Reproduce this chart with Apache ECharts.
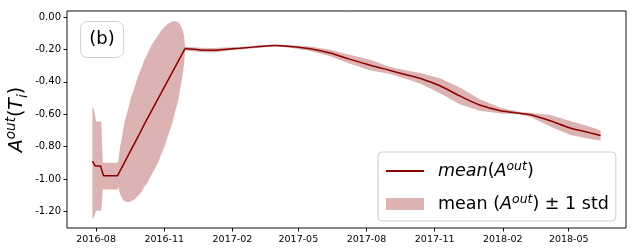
<!DOCTYPE html>
<html><head><meta charset="utf-8">
<script src="https://cdn.jsdelivr.net/npm/echarts@6/dist/echarts.min.js"></script>
<style>html,body{margin:0;padding:0;background:#fff}#c{width:635px;height:252px}</style>
</head><body><div id="c"></div>
<script>
// ---- data ----
const meanDates = ['2016-07-27','2016-07-29','2016-07-31','2016-08-07','2016-08-11','2016-08-30','2016-10-01','2016-10-03','2016-11-29',
  '2016-12-19','2017-01-06','2017-01-21','2017-02-11','2017-03-10','2017-03-30','2017-04-20','2017-05-17','2017-06-13','2017-07-09',
  '2017-08-05','2017-09-02','2017-09-29','2017-10-13','2017-11-08','2017-12-05','2018-01-01','2018-01-29','2018-02-24','2018-03-10',
  '2018-04-06','2018-05-03','2018-05-30','2018-06-13'];
const meanValues = [-0.889,-0.889,-0.920,-0.920,-0.979,-0.979,-0.700,-0.680,-0.195,
  -0.203,-0.205,-0.200,-0.193,-0.182,-0.176,-0.182,-0.196,-0.222,-0.260,
  -0.296,-0.330,-0.363,-0.379,-0.424,-0.487,-0.543,-0.578,-0.594,-0.603,
  -0.640,-0.685,-0.715,-0.731];

const bandDates = ['2016-07-27','2016-07-29','2016-08-01','2016-08-08','2016-08-10','2016-08-30','2016-08-31','2016-09-02','2016-09-05','2016-09-08',
  '2016-09-13','2016-09-17','2016-09-22','2016-09-26','2016-10-01','2016-10-05','2016-10-10','2016-10-14','2016-10-19','2016-10-24',
  '2016-10-28','2016-11-02','2016-11-06','2016-11-11','2016-11-15','2016-11-20','2016-11-23','2016-11-26','2016-11-28','2016-11-29',
  '2016-12-19','2017-01-06','2017-01-21','2017-02-11','2017-03-10','2017-03-30','2017-04-20','2017-05-17','2017-06-13','2017-07-09',
  '2017-08-05','2017-09-02','2017-09-29','2017-10-13','2017-11-08','2017-12-05','2018-01-01','2018-01-29','2018-02-24','2018-03-10',
  '2018-04-06','2018-05-03','2018-05-30','2018-06-13'];
const bandLower = [-1.245,-1.235,-1.195,-1.195,-1.065,-1.065,-1.047,-1.087,-1.118,-1.136,
  -1.143,-1.138,-1.125,-1.106,-1.082,-1.049,-1.016,-0.980,-0.939,-0.895,
  -0.846,-0.793,-0.733,-0.669,-0.596,-0.512,-0.431,-0.354,-0.283,-0.207,
  -0.216,-0.219,-0.212,-0.201,-0.189,-0.182,-0.190,-0.210,-0.242,-0.287,
  -0.329,-0.352,-0.391,-0.412,-0.470,-0.539,-0.579,-0.596,-0.602,-0.615,
  -0.675,-0.728,-0.753,-0.762];
const bandUpper = [-0.555,-0.570,-0.645,-0.645,-0.900,-0.900,-0.887,-0.815,-0.738,-0.656,
  -0.571,-0.498,-0.433,-0.372,-0.318,-0.265,-0.220,-0.180,-0.143,-0.111,
  -0.082,-0.059,-0.041,-0.029,-0.024,-0.032,-0.051,-0.082,-0.123,-0.183,
  -0.190,-0.191,-0.188,-0.185,-0.175,-0.170,-0.174,-0.182,-0.202,-0.233,
  -0.263,-0.308,-0.335,-0.346,-0.378,-0.435,-0.507,-0.560,-0.586,-0.591,
  -0.605,-0.642,-0.677,-0.700];
// the piecewise (sharp) early part of the mean and the smooth later part meet here
const splitDate = '2016-11-29';

const xTickDates = ['2016-08-01','2016-11-01','2017-02-01','2017-05-01','2017-08-01','2017-11-01','2018-02-01','2018-05-01'];
const xTickLabels = ['2016-08','2016-11','2017-02','2017-05','2017-08','2017-11','2018-02','2018-05'];
const yTickValues = [-1.2,-1.0,-0.8,-0.6,-0.4,-0.2,0.0];
const xRange = ['2016-06-22T17:00','2018-07-17T07:00'];
const yRange = [-1.302, 0.037];

// ---- helpers ----
function ts(s){
  const [d,t] = s.split('T');
  const [y,m,dd] = d.split('-').map(Number);
  let h = 0, mi = 0;
  if (t) { [h,mi] = t.split(':').map(Number); }
  return Date.UTC(y, m-1, dd, h, mi);
}
const split = ts(splitDate);
const tickTs = xTickDates.map(ts);

const bandColor = 'rgba(139,0,0,0.3)';
const lineColor = '#8b0000';
const FONT = 'DejaVu Sans';

const bandData = bandDates.map((d,i)=>[ts(d), bandLower[i], bandUpper[i]]);

function meanSeries(early){
  const data = [];
  meanDates.forEach((d,i)=>{ const t = ts(d); if (early ? t <= split : t >= split) data.push([t, meanValues[i]]); });
  return {name:'mean', type:'line', symbol:'none', showSymbol:false, smooth: early ? false : 0.3,
    data, color: lineColor, lineStyle:{color:lineColor, width:1.5}, itemStyle:{color:lineColor}, z:5, animation:false};
}

const bandSeries = {
  name:'band', type:'custom', coordinateSystem:'cartesian2d', data: bandData,
  encode:{x:0, y:[1,2]}, silent:true, z:2, color: bandColor, itemStyle:{color: bandColor},
  renderItem: function(params, api){
    if (params.dataIndex !== 0) return null;
    const pts = [];
    for (let i = 0; i < bandData.length; i++) pts.push(api.coord([bandData[i][0], bandData[i][2]]));
    for (let i = bandData.length - 1; i >= 0; i--) pts.push(api.coord([bandData[i][0], bandData[i][1]]));
    return {type:'polygon', shape:{points: pts}, style:{fill: bandColor, stroke: null}};
  }
};

const chart = echarts.init(document.getElementById('c'), null, {renderer:'canvas'});
chart.setOption({
  animation:false,
  backgroundColor:'#fff',
  grid:{left:67, top:11, width:559, height:217, show:true, borderColor:'#111', borderWidth:1,
        backgroundColor:'transparent', containLabel:false, outerBoundsMode:'none'},
  xAxis:{type:'value', min:ts(xRange[0]), max:ts(xRange[1]),
    axisLine:{show:false, onZero:false}, splitLine:{show:false},
    axisTick:{show:true, inside:false, length:3.5, lineStyle:{color:'#111'}, customValues: tickTs},
    axisLabel:{customValues: tickTs, margin:6.5, fontFamily:FONT, fontSize:9.5, color:'#000',
      formatter: v => { const i = tickTs.indexOf(v); return i >= 0 ? xTickLabels[i] : ''; }}},
  yAxis:{type:'value', min:yRange[0], max:yRange[1],
    axisLine:{show:false, onZero:false}, splitLine:{show:false},
    axisTick:{show:true, inside:false, length:3.5, lineStyle:{color:'#111'}, customValues: yTickValues},
    axisLabel:{customValues: yTickValues, margin:6, fontFamily:FONT, fontSize:10, color:'#000',
      formatter: v => v.toFixed(2)},
    name:'{i|A}{sup|out}{n|(}{i|T}{sub|i}{n|)}', nameLocation:'middle', nameRotate:90, nameGap:37,
    nameMoveOverlap:false,
    nameTextStyle:{fontFamily:FONT, color:'#000', fontSize:19,
      rich:{
        i:{fontFamily:FONT, fontStyle:'italic', fontSize:19, lineHeight:26, color:'#000'},
        n:{fontFamily:FONT, fontSize:19, lineHeight:26, color:'#000'},
        sup:{fontFamily:FONT, fontStyle:'italic', fontSize:13.5, lineHeight:17, verticalAlign:'top', color:'#000'},
        sub:{fontFamily:FONT, fontStyle:'italic', fontSize:13.5, lineHeight:15, verticalAlign:'bottom', color:'#000'}
      }}},
  legend:{
    orient:'vertical', left:378, top:152, padding:[8,7,8,7], itemGap:13, itemWidth:38, itemHeight:12,
    backgroundColor:'rgba(255,255,255,0.8)', borderColor:'#cccccc', borderWidth:1, borderRadius:4,
    selectedMode:false,
    data:[{name:'mean', itemStyle:{opacity:0}}, {name:'band', icon:'rect', itemStyle:{color:bandColor, borderWidth:0}}],
    formatter: name => name === 'mean'
      ? '{g|}{mi|mean}{n|(}{mi|A}{sup|out}{n|)}'
      : '{g|}{n|mean (}{mi|A}{sup|out}{n|) ± 1 std}',
    textStyle:{fontFamily:FONT, fontSize:17.5, color:'#000',
      rich:{
        g:{width:9},
        n:{fontFamily:FONT, fontSize:17.5, lineHeight:22, color:'#000'},
        mi:{fontFamily:FONT, fontStyle:'italic', fontSize:17.5, lineHeight:22, color:'#000'},
        sup:{fontFamily:FONT, fontStyle:'italic', fontSize:12.5, lineHeight:16, verticalAlign:'top', color:'#000'}
      }}
  },
  graphic:[{type:'group', left:80, top:21, z:100, children:[
    {type:'rect', shape:{x:0.5, y:0.5, width:43, height:36, r:7}, style:{fill:'rgba(255,255,255,0.8)', stroke:'#d0d0d0', lineWidth:1}},
    {type:'text', x:22, y:18.5, style:{text:'(b)', font:'18px "DejaVu Sans"', fill:'#000', align:'center', verticalAlign:'middle'}}
  ]}],
  series:[bandSeries, meanSeries(true), meanSeries(false)]
});
</script></body></html>
